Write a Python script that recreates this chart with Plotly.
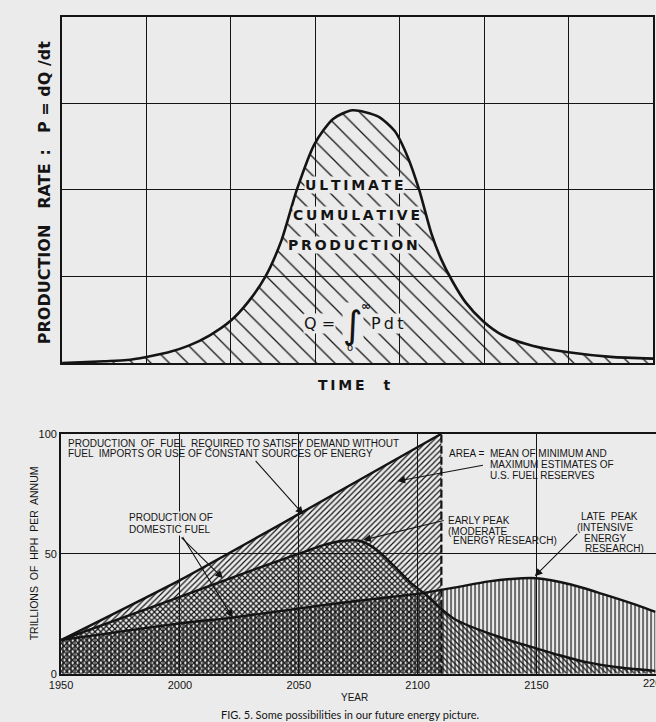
import plotly.graph_objects as go

W, H = 656, 722
BG = '#ebebeb'
INK = '#141414'

# ---------------- data ----------------
# Top chart (idealised Hubbert curve, in grid-cell units)
time_t = [0.0, 0.5, 0.77, 1.0, 1.25, 1.5, 1.75, 2.0, 2.2, 2.41, 2.6, 2.78, 2.99, 3.21, 3.44,
          3.74, 3.94, 4.09, 4.23, 4.37, 4.49, 4.62, 4.78, 4.99, 5.22, 5.57, 6.02, 6.5, 7.0]
rate_p = [0.0, 0.02, 0.034, 0.07, 0.12, 0.2, 0.32, 0.49, 0.70, 1.0, 1.42, 2.0, 2.53, 2.82, 2.92,
          2.85, 2.68, 2.39, 2.0, 1.51, 1.2, 0.95, 0.70, 0.48, 0.32, 0.2, 0.12, 0.07, 0.05]

# Bottom chart (trillions of HPH per annum)
years_demand = [1950, 2000, 2050, 2110]
demand = [14, 39, 66.5, 100]

years_early = [1950, 2000, 2030, 2050, 2060, 2068, 2076, 2083, 2090, 2097, 2104, 2110,
               2116, 2130, 2144, 2158, 2171, 2185, 2200]
early_peak = [14, 32, 43, 50, 53.5, 55.3, 55.3, 51.5, 45, 38, 32.5, 27,
              22.5, 16.8, 12.3, 8.2, 4.8, 2.6, 1.2]

years_late = [1950, 2000, 2022, 2061, 2080, 2102, 2116, 2130, 2144, 2150, 2164, 2178, 2192, 2200]
late_peak = [14, 21, 23.4, 28.7, 31, 33.6, 36, 38.5, 39.8, 39.8, 37.3, 33.2, 28.7, 25.8]

reserve_limit_year = [2110, 2110]
reserve_limit_val = [0, 100]

year_ticks = [1950, 2000, 2050, 2100, 2150]
edge_year_tick = 2200          # cut off by the right edge of the page
value_ticks = [0, 50, 100]


def hatch(shape, size, solidity):
    return dict(shape=shape, size=size, solidity=solidity, fgcolor=INK,
                bgcolor='rgba(0,0,0,0)', fillmode='replace')


fig = go.Figure()

# ---- top chart
fig.add_trace(go.Scatter(x=time_t, y=rate_p, xaxis='x', yaxis='y', mode='lines',
                         line=dict(color=INK, width=2.6, shape='spline', smoothing=0.7),
                         fill='tozeroy', fillcolor='rgba(0,0,0,0)',
                         fillpattern=hatch('\\', 13, 0.1),
                         hoverinfo='skip', showlegend=False))

# ---- bottom chart fills
fig.add_trace(go.Scatter(x=years_demand, y=demand, xaxis='x2', yaxis='y2', mode='lines',
                         line=dict(width=0, shape='spline', smoothing=0.6),
                         fill='tozeroy', fillcolor='rgba(0,0,0,0)',
                         fillpattern=hatch('/', 4, 0.3), hoverinfo='skip', showlegend=False))
fig.add_trace(go.Scatter(x=years_early, y=early_peak, xaxis='x2', yaxis='y2', mode='lines',
                         line=dict(width=0, shape='spline', smoothing=0.8),
                         fill='tozeroy', fillcolor='rgba(0,0,0,0)',
                         fillpattern=hatch('\\', 4, 0.3), hoverinfo='skip', showlegend=False))
fig.add_trace(go.Scatter(x=years_late, y=late_peak, xaxis='x2', yaxis='y2', mode='lines',
                         line=dict(width=0, shape='spline', smoothing=0.8),
                         fill='tozeroy', fillcolor='rgba(0,0,0,0)',
                         fillpattern=hatch('|', 4, 0.3), hoverinfo='skip', showlegend=False))
# bottom chart lines
for xs, ys, sm in [(years_demand, demand, 0.6), (years_early, early_peak, 0.8), (years_late, late_peak, 0.8)]:
    fig.add_trace(go.Scatter(x=xs, y=ys, xaxis='x2', yaxis='y2', mode='lines',
                             line=dict(color=INK, width=2.4, shape='spline', smoothing=sm),
                             hoverinfo='skip', showlegend=False))
fig.add_trace(go.Scatter(x=reserve_limit_year, y=reserve_limit_val, xaxis='x2', yaxis='y2',
                         mode='lines', line=dict(color=INK, width=2.2, dash='8px,3px'),
                         hoverinfo='skip', showlegend=False))


def px_x(px):
    return px / W


def px_y(py):
    return 1 - py / H


axis_common = dict(showline=True, linecolor=INK, linewidth=2, showgrid=True,
                   gridcolor=INK, gridwidth=1.2, zeroline=False, ticks='')

fig.update_layout(
    width=W, height=H, margin=dict(l=0, r=0, t=0, b=0),
    paper_bgcolor=BG, plot_bgcolor=BG, showlegend=False,
    xaxis=dict(domain=[px_x(51), px_x(653)], range=[0, 7], dtick=1, tick0=0,
               showticklabels=False, mirror=True, anchor='y', **axis_common),
    yaxis=dict(domain=[px_y(363), px_y(11)], range=[0, 4], dtick=1, tick0=0,
               showticklabels=False, mirror=True, anchor='x', **axis_common),
    xaxis2=dict(domain=[px_x(50), 1.0], range=[1950, 2200.3], tickvals=year_ticks,
                ticktext=[str(v) for v in year_ticks], mirror=True, anchor='y2',
                tickfont=dict(family='Liberation Sans', size=11, color=INK), **axis_common),
    yaxis2=dict(domain=[px_y(679), px_y(435)], range=[0, 100], tickvals=value_ticks,
                mirror=False, anchor='x2',
                tickfont=dict(family='Liberation Sans', size=11, color=INK), **axis_common),
)

ann = []


def text_px(text, px, py, size=10, family='Liberation Sans', xanchor='left', angle=0,
            bg=None, weight='normal'):
    d = dict(text=text, x=px_x(px), y=px_y(py), xref='paper', yref='paper',
             xanchor=xanchor, yanchor='middle', showarrow=False, textangle=angle,
             font=dict(family=family, size=size, color=INK, weight=weight), borderpad=0)
    if bg:
        d['bgcolor'] = bg
    ann.append(d)


TS = '\u2009'  # thin space for letter spacing of hand lettering


def spaced(word):
    return TS.join(list(word))


# top chart lettering
text_px(spaced('ULTIMATE'), 349, 182, 14, 'DejaVu Sans', 'center', bg=BG, weight='bold')
text_px(spaced('CUMULATIVE'), 351, 213, 14, 'DejaVu Sans', 'center', bg=BG, weight='bold')
text_px(spaced('PRODUCTION'), 347, 243, 14, 'DejaVu Sans', 'center', bg=BG, weight='bold')
text_px('Q =', 313, 323, 16, 'DejaVu Sans', 'center', bg=BG)
text_px('\u222b', 347, 324, 38, 'DejaVu Sans', 'center', bg=BG)
text_px('\u221e', 361, 305, 12, 'DejaVu Sans', 'center', weight='bold')
text_px('o', 344, 347, 10, 'DejaVu Sans', 'center')
text_px('P' + TS + 'd' + TS + 't', 382, 323, 16, 'DejaVu Sans', 'center', bg=BG)
text_px('PRODUCTION\u2003RATE\u2002:\u2003P = dQ /dt', 33, 190, 16, 'DejaVu Sans', 'center',
        angle=-90, weight='bold')
text_px(spaced('TIME') + '\u2003 t', 349, 385, 14, 'DejaVu Sans', 'center', weight='bold')

# bottom chart lettering
text_px('PRODUCTION  OF  FUEL  REQUIRED TO SATISFY DEMAND WITHOUT', 56, 445, 10)
text_px('FUEL  IMPORTS OR USE OF CONSTANT SOURCES OF ENERGY', 56, 455, 10)
text_px('AREA =', 444, 455, 10)
text_px('MEAN OF MINIMUM AND', 486, 455, 10)
text_px('MAXIMUM ESTIMATES OF', 486, 466, 10)
text_px('U.S. FUEL RESERVES', 486, 477, 10)
text_px('PRODUCTION OF', 118, 520, 10, bg=BG)
text_px('DOMESTIC FUEL', 118, 532, 10, bg=BG)
text_px('EARLY PEAK', 443, 523, 10)
text_px('(MODERATE', 443, 534, 10)
text_px('ENERGY RESEARCH)', 448, 544, 10)
text_px('LATE  PEAK', 579, 519, 10)
text_px('(INTENSIVE', 575, 530, 10)
text_px('ENERGY', 582, 542, 10)
text_px('RESEARCH)', 583, 552, 10)
text_px('YEAR', 349, 703, 10, xanchor='center')
text_px('TRILLIONS  OF  HPH  PER  ANNUM', 22, 557, 10.5, xanchor='center', angle=-90)
text_px('FIG. 5. Some possibilities in our future energy picture.', 344, 720, 11,
        'Lato', xanchor='center')

# the last year tick label sits on the page edge and is cut in half
ann.append(dict(text=str(edge_year_tick), x=edge_year_tick, xref='x2', y=px_y(688), yref='paper',
                xanchor='center', yanchor='middle', showarrow=False,
                font=dict(family='Liberation Sans', size=11, color=INK)))

# arrows (head in data coordinates, tail offset in pixels)
arrows = [
    (2051.9, 66.4, -49, -55),
    (2091.5, 80.3, 87, -16),
    (2018.1, 39.8, -43, -42),
    (2022.2, 23.4, -51, -82),
    (2077.1, 55.7, 82, -20),
    (2149.3, 40.6, 44, -44),
]
for hx, hy, axp, ayp in arrows:
    ann.append(dict(x=hx, y=hy, xref='x2', yref='y2', ax=axp, ay=ayp, text='',
                    showarrow=True, arrowhead=2, arrowsize=1.4, arrowwidth=1.1,
                    arrowcolor=INK, standoff=0))

fig.update_layout(annotations=ann)
fig.write_html('out.html', config={'displayModeBar': False},
               post_script="document.body.style.margin='0px';document.body.style.overflow='hidden';")
